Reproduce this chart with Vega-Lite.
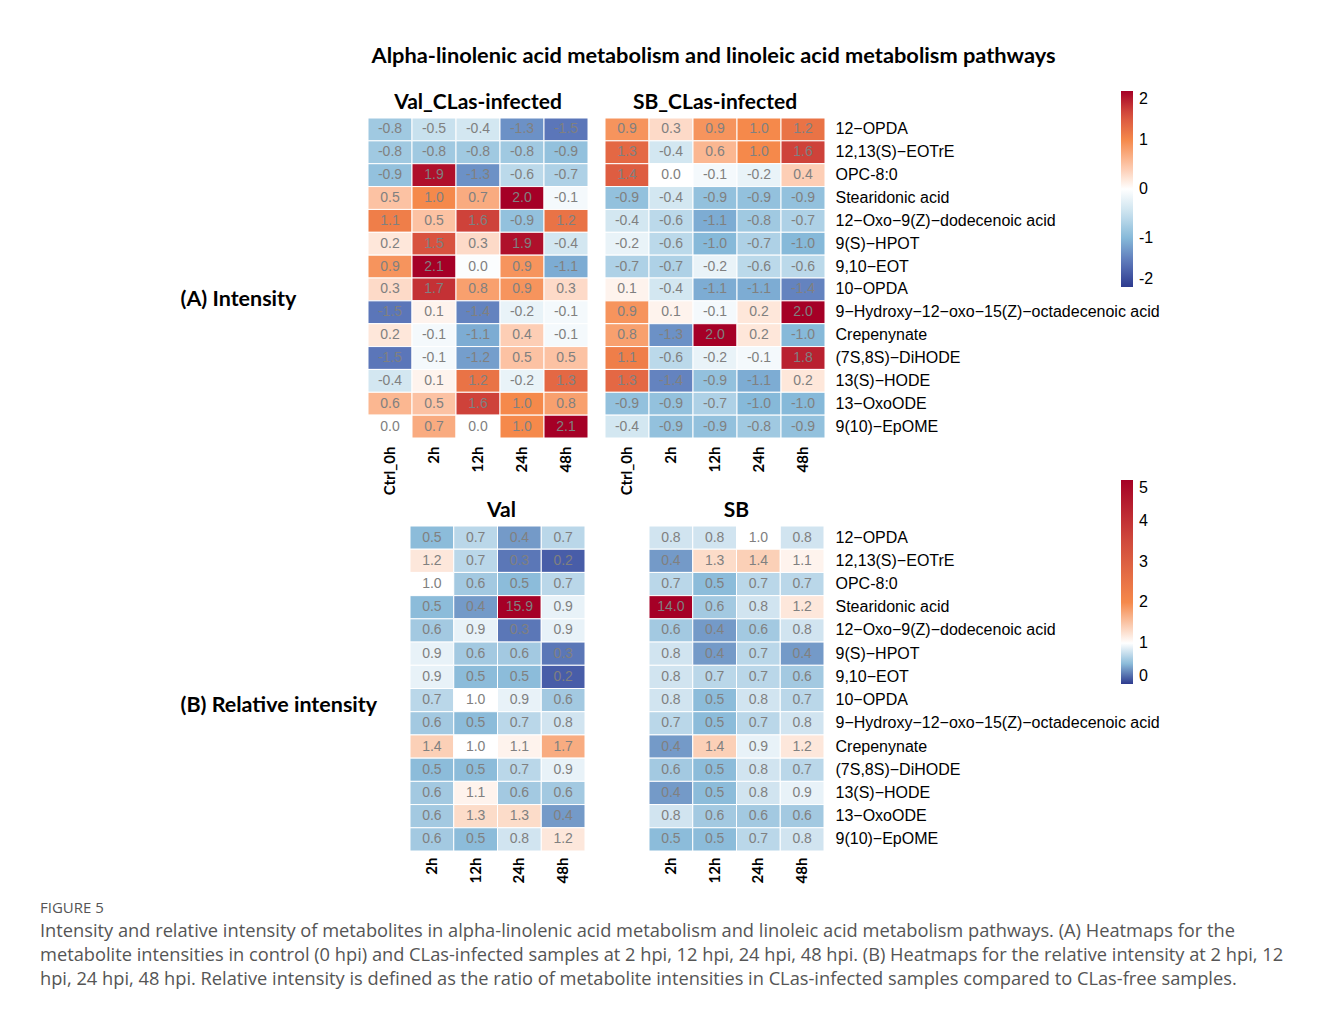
{
  "$schema": "https://vega.github.io/schema/vega-lite/v6.json",
  "background": "white",
  "padding": {"left": 40, "top": 46, "right": 5, "bottom": 5},
  "config": {
    "view": {"stroke": null},
    "locale": {"number": {"decimal": ".", "thousands": ",", "grouping": [3], "currency": ["$", ""], "minus": "-"}},
    "axis": {"domain": false, "ticks": false, "grid": false}
  },
  "title": {"text": "Alpha-linolenic acid metabolism and linoleic acid metabolism pathways", "font": "Lato", "fontSize": 21.8, "fontWeight": "bold", "color": "#000000", "anchor": "middle", "dx": 52, "offset": 23},
  "resolve": {"scale": {"color": "independent"}},
  "spacing": -15,
  "datasets": {
    "intA": [
      {"g":"Val","m":"12−OPDA","t":"Ctrl_0h","v":-0.8},{"g":"Val","m":"12−OPDA","t":"2h","v":-0.5},{"g":"Val","m":"12−OPDA","t":"12h","v":-0.4},{"g":"Val","m":"12−OPDA","t":"24h","v":-1.3},{"g":"Val","m":"12−OPDA","t":"48h","v":-1.5},
      {"g":"Val","m":"12,13(S)−EOTrE","t":"Ctrl_0h","v":-0.8},{"g":"Val","m":"12,13(S)−EOTrE","t":"2h","v":-0.8},{"g":"Val","m":"12,13(S)−EOTrE","t":"12h","v":-0.8},{"g":"Val","m":"12,13(S)−EOTrE","t":"24h","v":-0.8},{"g":"Val","m":"12,13(S)−EOTrE","t":"48h","v":-0.9},
      {"g":"Val","m":"OPC-8:0","t":"Ctrl_0h","v":-0.9},{"g":"Val","m":"OPC-8:0","t":"2h","v":1.9},{"g":"Val","m":"OPC-8:0","t":"12h","v":-1.3},{"g":"Val","m":"OPC-8:0","t":"24h","v":-0.6},{"g":"Val","m":"OPC-8:0","t":"48h","v":-0.7},
      {"g":"Val","m":"Stearidonic acid","t":"Ctrl_0h","v":0.5},{"g":"Val","m":"Stearidonic acid","t":"2h","v":1.0},{"g":"Val","m":"Stearidonic acid","t":"12h","v":0.7},{"g":"Val","m":"Stearidonic acid","t":"24h","v":2.0},{"g":"Val","m":"Stearidonic acid","t":"48h","v":-0.1},
      {"g":"Val","m":"12−Oxo−9(Z)−dodecenoic acid","t":"Ctrl_0h","v":1.1},{"g":"Val","m":"12−Oxo−9(Z)−dodecenoic acid","t":"2h","v":0.5},{"g":"Val","m":"12−Oxo−9(Z)−dodecenoic acid","t":"12h","v":1.6},{"g":"Val","m":"12−Oxo−9(Z)−dodecenoic acid","t":"24h","v":-0.9},{"g":"Val","m":"12−Oxo−9(Z)−dodecenoic acid","t":"48h","v":1.2},
      {"g":"Val","m":"9(S)−HPOT","t":"Ctrl_0h","v":0.2},{"g":"Val","m":"9(S)−HPOT","t":"2h","v":1.5},{"g":"Val","m":"9(S)−HPOT","t":"12h","v":0.3},{"g":"Val","m":"9(S)−HPOT","t":"24h","v":1.9},{"g":"Val","m":"9(S)−HPOT","t":"48h","v":-0.4},
      {"g":"Val","m":"9,10−EOT","t":"Ctrl_0h","v":0.9},{"g":"Val","m":"9,10−EOT","t":"2h","v":2.1},{"g":"Val","m":"9,10−EOT","t":"12h","v":-0.04},{"g":"Val","m":"9,10−EOT","t":"24h","v":0.9},{"g":"Val","m":"9,10−EOT","t":"48h","v":-1.1},
      {"g":"Val","m":"10−OPDA","t":"Ctrl_0h","v":0.3},{"g":"Val","m":"10−OPDA","t":"2h","v":1.7},{"g":"Val","m":"10−OPDA","t":"12h","v":0.8},{"g":"Val","m":"10−OPDA","t":"24h","v":0.9},{"g":"Val","m":"10−OPDA","t":"48h","v":0.3},
      {"g":"Val","m":"9−Hydroxy−12−oxo−15(Z)−octadecenoic acid","t":"Ctrl_0h","v":-1.5},{"g":"Val","m":"9−Hydroxy−12−oxo−15(Z)−octadecenoic acid","t":"2h","v":0.1},{"g":"Val","m":"9−Hydroxy−12−oxo−15(Z)−octadecenoic acid","t":"12h","v":-1.4},{"g":"Val","m":"9−Hydroxy−12−oxo−15(Z)−octadecenoic acid","t":"24h","v":-0.2},{"g":"Val","m":"9−Hydroxy−12−oxo−15(Z)−octadecenoic acid","t":"48h","v":-0.1},
      {"g":"Val","m":"Crepenynate","t":"Ctrl_0h","v":0.2},{"g":"Val","m":"Crepenynate","t":"2h","v":-0.1},{"g":"Val","m":"Crepenynate","t":"12h","v":-1.1},{"g":"Val","m":"Crepenynate","t":"24h","v":0.4},{"g":"Val","m":"Crepenynate","t":"48h","v":-0.1},
      {"g":"Val","m":"(7S,8S)−DiHODE","t":"Ctrl_0h","v":-1.5},{"g":"Val","m":"(7S,8S)−DiHODE","t":"2h","v":-0.1},{"g":"Val","m":"(7S,8S)−DiHODE","t":"12h","v":-1.2},{"g":"Val","m":"(7S,8S)−DiHODE","t":"24h","v":0.5},{"g":"Val","m":"(7S,8S)−DiHODE","t":"48h","v":0.5},
      {"g":"Val","m":"13(S)−HODE","t":"Ctrl_0h","v":-0.4},{"g":"Val","m":"13(S)−HODE","t":"2h","v":0.1},{"g":"Val","m":"13(S)−HODE","t":"12h","v":1.2},{"g":"Val","m":"13(S)−HODE","t":"24h","v":-0.2},{"g":"Val","m":"13(S)−HODE","t":"48h","v":1.3},
      {"g":"Val","m":"13−OxoODE","t":"Ctrl_0h","v":0.6},{"g":"Val","m":"13−OxoODE","t":"2h","v":0.5},{"g":"Val","m":"13−OxoODE","t":"12h","v":1.6},{"g":"Val","m":"13−OxoODE","t":"24h","v":1.0},{"g":"Val","m":"13−OxoODE","t":"48h","v":0.8},
      {"g":"Val","m":"9(10)−EpOME","t":"Ctrl_0h","v":0.0},{"g":"Val","m":"9(10)−EpOME","t":"2h","v":0.7},{"g":"Val","m":"9(10)−EpOME","t":"12h","v":0.0},{"g":"Val","m":"9(10)−EpOME","t":"24h","v":1.0},{"g":"Val","m":"9(10)−EpOME","t":"48h","v":2.1},
      {"g":"SB","m":"12−OPDA","t":"Ctrl_0h","v":0.9},{"g":"SB","m":"12−OPDA","t":"2h","v":0.3},{"g":"SB","m":"12−OPDA","t":"12h","v":0.9},{"g":"SB","m":"12−OPDA","t":"24h","v":1.0},{"g":"SB","m":"12−OPDA","t":"48h","v":1.2},
      {"g":"SB","m":"12,13(S)−EOTrE","t":"Ctrl_0h","v":1.3},{"g":"SB","m":"12,13(S)−EOTrE","t":"2h","v":-0.4},{"g":"SB","m":"12,13(S)−EOTrE","t":"12h","v":0.6},{"g":"SB","m":"12,13(S)−EOTrE","t":"24h","v":1.0},{"g":"SB","m":"12,13(S)−EOTrE","t":"48h","v":1.6},
      {"g":"SB","m":"OPC-8:0","t":"Ctrl_0h","v":1.4},{"g":"SB","m":"OPC-8:0","t":"2h","v":0.0},{"g":"SB","m":"OPC-8:0","t":"12h","v":-0.1},{"g":"SB","m":"OPC-8:0","t":"24h","v":-0.2},{"g":"SB","m":"OPC-8:0","t":"48h","v":0.4},
      {"g":"SB","m":"Stearidonic acid","t":"Ctrl_0h","v":-0.9},{"g":"SB","m":"Stearidonic acid","t":"2h","v":-0.4},{"g":"SB","m":"Stearidonic acid","t":"12h","v":-0.9},{"g":"SB","m":"Stearidonic acid","t":"24h","v":-0.9},{"g":"SB","m":"Stearidonic acid","t":"48h","v":-0.9},
      {"g":"SB","m":"12−Oxo−9(Z)−dodecenoic acid","t":"Ctrl_0h","v":-0.4},{"g":"SB","m":"12−Oxo−9(Z)−dodecenoic acid","t":"2h","v":-0.6},{"g":"SB","m":"12−Oxo−9(Z)−dodecenoic acid","t":"12h","v":-1.1},{"g":"SB","m":"12−Oxo−9(Z)−dodecenoic acid","t":"24h","v":-0.8},{"g":"SB","m":"12−Oxo−9(Z)−dodecenoic acid","t":"48h","v":-0.7},
      {"g":"SB","m":"9(S)−HPOT","t":"Ctrl_0h","v":-0.2},{"g":"SB","m":"9(S)−HPOT","t":"2h","v":-0.6},{"g":"SB","m":"9(S)−HPOT","t":"12h","v":-1.0},{"g":"SB","m":"9(S)−HPOT","t":"24h","v":-0.7},{"g":"SB","m":"9(S)−HPOT","t":"48h","v":-1.0},
      {"g":"SB","m":"9,10−EOT","t":"Ctrl_0h","v":-0.7},{"g":"SB","m":"9,10−EOT","t":"2h","v":-0.7},{"g":"SB","m":"9,10−EOT","t":"12h","v":-0.2},{"g":"SB","m":"9,10−EOT","t":"24h","v":-0.6},{"g":"SB","m":"9,10−EOT","t":"48h","v":-0.6},
      {"g":"SB","m":"10−OPDA","t":"Ctrl_0h","v":0.1},{"g":"SB","m":"10−OPDA","t":"2h","v":-0.4},{"g":"SB","m":"10−OPDA","t":"12h","v":-1.1},{"g":"SB","m":"10−OPDA","t":"24h","v":-1.1},{"g":"SB","m":"10−OPDA","t":"48h","v":-1.4},
      {"g":"SB","m":"9−Hydroxy−12−oxo−15(Z)−octadecenoic acid","t":"Ctrl_0h","v":0.9},{"g":"SB","m":"9−Hydroxy−12−oxo−15(Z)−octadecenoic acid","t":"2h","v":0.1},{"g":"SB","m":"9−Hydroxy−12−oxo−15(Z)−octadecenoic acid","t":"12h","v":-0.1},{"g":"SB","m":"9−Hydroxy−12−oxo−15(Z)−octadecenoic acid","t":"24h","v":0.2},{"g":"SB","m":"9−Hydroxy−12−oxo−15(Z)−octadecenoic acid","t":"48h","v":2.0},
      {"g":"SB","m":"Crepenynate","t":"Ctrl_0h","v":0.8},{"g":"SB","m":"Crepenynate","t":"2h","v":-1.3},{"g":"SB","m":"Crepenynate","t":"12h","v":2.0},{"g":"SB","m":"Crepenynate","t":"24h","v":0.2},{"g":"SB","m":"Crepenynate","t":"48h","v":-1.0},
      {"g":"SB","m":"(7S,8S)−DiHODE","t":"Ctrl_0h","v":1.1},{"g":"SB","m":"(7S,8S)−DiHODE","t":"2h","v":-0.6},{"g":"SB","m":"(7S,8S)−DiHODE","t":"12h","v":-0.2},{"g":"SB","m":"(7S,8S)−DiHODE","t":"24h","v":-0.1},{"g":"SB","m":"(7S,8S)−DiHODE","t":"48h","v":1.8},
      {"g":"SB","m":"13(S)−HODE","t":"Ctrl_0h","v":1.3},{"g":"SB","m":"13(S)−HODE","t":"2h","v":-1.4},{"g":"SB","m":"13(S)−HODE","t":"12h","v":-0.9},{"g":"SB","m":"13(S)−HODE","t":"24h","v":-1.1},{"g":"SB","m":"13(S)−HODE","t":"48h","v":0.2},
      {"g":"SB","m":"13−OxoODE","t":"Ctrl_0h","v":-0.9},{"g":"SB","m":"13−OxoODE","t":"2h","v":-0.9},{"g":"SB","m":"13−OxoODE","t":"12h","v":-0.7},{"g":"SB","m":"13−OxoODE","t":"24h","v":-1.0},{"g":"SB","m":"13−OxoODE","t":"48h","v":-1.0},
      {"g":"SB","m":"9(10)−EpOME","t":"Ctrl_0h","v":-0.4},{"g":"SB","m":"9(10)−EpOME","t":"2h","v":-0.9},{"g":"SB","m":"9(10)−EpOME","t":"12h","v":-0.9},{"g":"SB","m":"9(10)−EpOME","t":"24h","v":-0.8},{"g":"SB","m":"9(10)−EpOME","t":"48h","v":-0.9}
    ],
    "relB": [
      {"g":"Val","m":"12−OPDA","t":"2h","v":0.5},{"g":"Val","m":"12−OPDA","t":"12h","v":0.7},{"g":"Val","m":"12−OPDA","t":"24h","v":0.4},{"g":"Val","m":"12−OPDA","t":"48h","v":0.7},
      {"g":"Val","m":"12,13(S)−EOTrE","t":"2h","v":1.2},{"g":"Val","m":"12,13(S)−EOTrE","t":"12h","v":0.7},{"g":"Val","m":"12,13(S)−EOTrE","t":"24h","v":0.3},{"g":"Val","m":"12,13(S)−EOTrE","t":"48h","v":0.2},
      {"g":"Val","m":"OPC-8:0","t":"2h","v":1.0},{"g":"Val","m":"OPC-8:0","t":"12h","v":0.6},{"g":"Val","m":"OPC-8:0","t":"24h","v":0.5},{"g":"Val","m":"OPC-8:0","t":"48h","v":0.7},
      {"g":"Val","m":"Stearidonic acid","t":"2h","v":0.5},{"g":"Val","m":"Stearidonic acid","t":"12h","v":0.4},{"g":"Val","m":"Stearidonic acid","t":"24h","v":15.9},{"g":"Val","m":"Stearidonic acid","t":"48h","v":0.9},
      {"g":"Val","m":"12−Oxo−9(Z)−dodecenoic acid","t":"2h","v":0.6},{"g":"Val","m":"12−Oxo−9(Z)−dodecenoic acid","t":"12h","v":0.9},{"g":"Val","m":"12−Oxo−9(Z)−dodecenoic acid","t":"24h","v":0.3},{"g":"Val","m":"12−Oxo−9(Z)−dodecenoic acid","t":"48h","v":0.9},
      {"g":"Val","m":"9(S)−HPOT","t":"2h","v":0.9},{"g":"Val","m":"9(S)−HPOT","t":"12h","v":0.6},{"g":"Val","m":"9(S)−HPOT","t":"24h","v":0.6},{"g":"Val","m":"9(S)−HPOT","t":"48h","v":0.3},
      {"g":"Val","m":"9,10−EOT","t":"2h","v":0.9},{"g":"Val","m":"9,10−EOT","t":"12h","v":0.5},{"g":"Val","m":"9,10−EOT","t":"24h","v":0.5},{"g":"Val","m":"9,10−EOT","t":"48h","v":0.2},
      {"g":"Val","m":"10−OPDA","t":"2h","v":0.7},{"g":"Val","m":"10−OPDA","t":"12h","v":1.0},{"g":"Val","m":"10−OPDA","t":"24h","v":0.9},{"g":"Val","m":"10−OPDA","t":"48h","v":0.6},
      {"g":"Val","m":"9−Hydroxy−12−oxo−15(Z)−octadecenoic acid","t":"2h","v":0.6},{"g":"Val","m":"9−Hydroxy−12−oxo−15(Z)−octadecenoic acid","t":"12h","v":0.5},{"g":"Val","m":"9−Hydroxy−12−oxo−15(Z)−octadecenoic acid","t":"24h","v":0.7},{"g":"Val","m":"9−Hydroxy−12−oxo−15(Z)−octadecenoic acid","t":"48h","v":0.8},
      {"g":"Val","m":"Crepenynate","t":"2h","v":1.4},{"g":"Val","m":"Crepenynate","t":"12h","v":1.0},{"g":"Val","m":"Crepenynate","t":"24h","v":1.1},{"g":"Val","m":"Crepenynate","t":"48h","v":1.7},
      {"g":"Val","m":"(7S,8S)−DiHODE","t":"2h","v":0.5},{"g":"Val","m":"(7S,8S)−DiHODE","t":"12h","v":0.5},{"g":"Val","m":"(7S,8S)−DiHODE","t":"24h","v":0.7},{"g":"Val","m":"(7S,8S)−DiHODE","t":"48h","v":0.9},
      {"g":"Val","m":"13(S)−HODE","t":"2h","v":0.6},{"g":"Val","m":"13(S)−HODE","t":"12h","v":1.1},{"g":"Val","m":"13(S)−HODE","t":"24h","v":0.6},{"g":"Val","m":"13(S)−HODE","t":"48h","v":0.6},
      {"g":"Val","m":"13−OxoODE","t":"2h","v":0.6},{"g":"Val","m":"13−OxoODE","t":"12h","v":1.3},{"g":"Val","m":"13−OxoODE","t":"24h","v":1.3},{"g":"Val","m":"13−OxoODE","t":"48h","v":0.4},
      {"g":"Val","m":"9(10)−EpOME","t":"2h","v":0.6},{"g":"Val","m":"9(10)−EpOME","t":"12h","v":0.5},{"g":"Val","m":"9(10)−EpOME","t":"24h","v":0.8},{"g":"Val","m":"9(10)−EpOME","t":"48h","v":1.2},
      {"g":"SB","m":"12−OPDA","t":"2h","v":0.8},{"g":"SB","m":"12−OPDA","t":"12h","v":0.8},{"g":"SB","m":"12−OPDA","t":"24h","v":1.0},{"g":"SB","m":"12−OPDA","t":"48h","v":0.8},
      {"g":"SB","m":"12,13(S)−EOTrE","t":"2h","v":0.4},{"g":"SB","m":"12,13(S)−EOTrE","t":"12h","v":1.3},{"g":"SB","m":"12,13(S)−EOTrE","t":"24h","v":1.4},{"g":"SB","m":"12,13(S)−EOTrE","t":"48h","v":1.1},
      {"g":"SB","m":"OPC-8:0","t":"2h","v":0.7},{"g":"SB","m":"OPC-8:0","t":"12h","v":0.5},{"g":"SB","m":"OPC-8:0","t":"24h","v":0.7},{"g":"SB","m":"OPC-8:0","t":"48h","v":0.7},
      {"g":"SB","m":"Stearidonic acid","t":"2h","v":14.0},{"g":"SB","m":"Stearidonic acid","t":"12h","v":0.6},{"g":"SB","m":"Stearidonic acid","t":"24h","v":0.8},{"g":"SB","m":"Stearidonic acid","t":"48h","v":1.2},
      {"g":"SB","m":"12−Oxo−9(Z)−dodecenoic acid","t":"2h","v":0.6},{"g":"SB","m":"12−Oxo−9(Z)−dodecenoic acid","t":"12h","v":0.4},{"g":"SB","m":"12−Oxo−9(Z)−dodecenoic acid","t":"24h","v":0.6},{"g":"SB","m":"12−Oxo−9(Z)−dodecenoic acid","t":"48h","v":0.8},
      {"g":"SB","m":"9(S)−HPOT","t":"2h","v":0.8},{"g":"SB","m":"9(S)−HPOT","t":"12h","v":0.4},{"g":"SB","m":"9(S)−HPOT","t":"24h","v":0.7},{"g":"SB","m":"9(S)−HPOT","t":"48h","v":0.4},
      {"g":"SB","m":"9,10−EOT","t":"2h","v":0.8},{"g":"SB","m":"9,10−EOT","t":"12h","v":0.7},{"g":"SB","m":"9,10−EOT","t":"24h","v":0.7},{"g":"SB","m":"9,10−EOT","t":"48h","v":0.6},
      {"g":"SB","m":"10−OPDA","t":"2h","v":0.8},{"g":"SB","m":"10−OPDA","t":"12h","v":0.5},{"g":"SB","m":"10−OPDA","t":"24h","v":0.8},{"g":"SB","m":"10−OPDA","t":"48h","v":0.7},
      {"g":"SB","m":"9−Hydroxy−12−oxo−15(Z)−octadecenoic acid","t":"2h","v":0.7},{"g":"SB","m":"9−Hydroxy−12−oxo−15(Z)−octadecenoic acid","t":"12h","v":0.5},{"g":"SB","m":"9−Hydroxy−12−oxo−15(Z)−octadecenoic acid","t":"24h","v":0.7},{"g":"SB","m":"9−Hydroxy−12−oxo−15(Z)−octadecenoic acid","t":"48h","v":0.8},
      {"g":"SB","m":"Crepenynate","t":"2h","v":0.4},{"g":"SB","m":"Crepenynate","t":"12h","v":1.4},{"g":"SB","m":"Crepenynate","t":"24h","v":0.9},{"g":"SB","m":"Crepenynate","t":"48h","v":1.2},
      {"g":"SB","m":"(7S,8S)−DiHODE","t":"2h","v":0.6},{"g":"SB","m":"(7S,8S)−DiHODE","t":"12h","v":0.5},{"g":"SB","m":"(7S,8S)−DiHODE","t":"24h","v":0.8},{"g":"SB","m":"(7S,8S)−DiHODE","t":"48h","v":0.7},
      {"g":"SB","m":"13(S)−HODE","t":"2h","v":0.4},{"g":"SB","m":"13(S)−HODE","t":"12h","v":0.5},{"g":"SB","m":"13(S)−HODE","t":"24h","v":0.8},{"g":"SB","m":"13(S)−HODE","t":"48h","v":0.9},
      {"g":"SB","m":"13−OxoODE","t":"2h","v":0.8},{"g":"SB","m":"13−OxoODE","t":"12h","v":0.6},{"g":"SB","m":"13−OxoODE","t":"24h","v":0.6},{"g":"SB","m":"13−OxoODE","t":"48h","v":0.6},
      {"g":"SB","m":"9(10)−EpOME","t":"2h","v":0.5},{"g":"SB","m":"9(10)−EpOME","t":"12h","v":0.5},{"g":"SB","m":"9(10)−EpOME","t":"24h","v":0.7},{"g":"SB","m":"9(10)−EpOME","t":"48h","v":0.8}
    ]
  },
  "vconcat": [
    {
      "hconcat": [
        {
          "title": {"text": "Val_CLas-infected", "font": "Lato", "fontSize": 21, "fontWeight": "bold", "color": "#000000", "anchor": "middle", "offset": 5},
          "width": 220, "height": 320,
          "data": {"name": "intA"},
          "transform": [{"filter": "datum.g === 'Val'"}],
          "encoding": {
            "x": {"field": "t", "type": "nominal", "sort": ["Ctrl_0h","2h","12h","24h","48h"], "scale": {"paddingInner": 0, "paddingOuter": 0},
                  "axis": {"title": null, "labelAngle": 270, "labelFont": "Lato", "labelFontSize": 15, "labelFontWeight": "bold", "labelColor": "#000000", "labelPadding": 8}},
            "y": {"field": "m", "type": "nominal", "sort": ["12−OPDA","12,13(S)−EOTrE","OPC-8:0","Stearidonic acid","12−Oxo−9(Z)−dodecenoic acid","9(S)−HPOT","9,10−EOT","10−OPDA","9−Hydroxy−12−oxo−15(Z)−octadecenoic acid","Crepenynate","(7S,8S)−DiHODE","13(S)−HODE","13−OxoODE","9(10)−EpOME"],
                  "scale": {"paddingInner": 0, "paddingOuter": 0},
                  "axis": {"labels": false, "title": "(A) Intensity", "titleAngle": 0, "titleAlign": "left", "titleBaseline": "middle", "titleX": -188, "titleY": 181, "titleFont": "Lato", "titleFontSize": 21.5, "titleFontWeight": "bold", "titleColor": "#000000"}}
          },
          "layer": [
            {"mark": {"type": "rect", "stroke": "#ffffff", "strokeWidth": 1},
             "encoding": {"color": {"field": "v", "type": "quantitative", "legend": null,
               "scale": {"domain": [-2,-1.5,-1,-0.5,0,0.5,1,1.5,2], "range": ["#2d3a8e","#5b76b9","#86b9d9","#c8e1ee","#ffffff","#fcc2a3","#f5894b","#d8523f","#a50026"], "clamp": true, "interpolate": "rgb"}}}},
            {"mark": {"type": "text", "font": "Liberation Sans", "fontSize": 14, "color": "#808080"},
             "encoding": {"text": {"field": "v", "type": "quantitative", "format": ".1f"}}}
          ]
        },
        {
          "title": {"text": "SB_CLas-infected", "font": "Lato", "fontSize": 21, "fontWeight": "bold", "color": "#000000", "anchor": "middle", "offset": 5, "dy": 27},
          "width": 220, "height": 320,
          "data": {"name": "intA"},
          "transform": [{"filter": "datum.g === 'SB'"}],
          "encoding": {
            "x": {"field": "t", "type": "nominal", "sort": ["Ctrl_0h","2h","12h","24h","48h"], "scale": {"paddingInner": 0, "paddingOuter": 0},
                  "axis": {"title": null, "labelAngle": 270, "labelFont": "Lato", "labelFontSize": 15, "labelFontWeight": "bold", "labelColor": "#000000", "labelPadding": 8}},
            "y": {"field": "m", "type": "nominal", "sort": ["12−OPDA","12,13(S)−EOTrE","OPC-8:0","Stearidonic acid","12−Oxo−9(Z)−dodecenoic acid","9(S)−HPOT","9,10−EOT","10−OPDA","9−Hydroxy−12−oxo−15(Z)−octadecenoic acid","Crepenynate","(7S,8S)−DiHODE","13(S)−HODE","13−OxoODE","9(10)−EpOME"],
                  "scale": {"paddingInner": 0, "paddingOuter": 0},
                  "axis": {"orient": "right", "title": null, "labelFont": "Liberation Sans", "labelFontSize": 16, "labelColor": "#000000", "labelPadding": 10, "labelLimit": 0}}
          },
          "layer": [
            {"mark": {"type": "rect", "stroke": "#ffffff", "strokeWidth": 1},
             "encoding": {"color": {"field": "v", "type": "quantitative",
               "scale": {"domain": [-2,-1.5,-1,-0.5,0,0.5,1,1.5,2], "range": ["#2d3a8e","#5b76b9","#86b9d9","#c8e1ee","#ffffff","#fcc2a3","#f5894b","#d8523f","#a50026"], "clamp": true, "interpolate": "rgb"},
               "legend": {"orient": "none", "legendX": 516, "legendY": -27, "title": null, "direction": "vertical", "gradientLength": 196, "gradientThickness": 12, "gradientStrokeWidth": 0, "values": [-2,-1,0,1,2], "labelFont": "Liberation Sans", "labelFontSize": 16, "labelColor": "#000000", "labelOffset": 6, "padding": 0}}}},
            {"mark": {"type": "text", "font": "Liberation Sans", "fontSize": 14, "color": "#808080"},
             "encoding": {"text": {"field": "v", "type": "quantitative", "format": ".1f"}}}
          ]
        }
      ],
      "spacing": 15,
      "resolve": {"scale": {"color": "independent"}}
    },
    {
      "title": {"text": "FIGURE 5", "orient": "bottom", "anchor": "start", "dx": -140, "offset": 18, "font": "Open Sans", "fontSize": 15, "fontWeight": "normal", "color": "#555555",
                "subtitle": ["Intensity and relative intensity of metabolites in alpha-linolenic acid metabolism and linoleic acid metabolism pathways. (A) Heatmaps for the", "metabolite intensities in control (0 hpi) and CLas-infected samples at 2 hpi, 12 hpi, 24 hpi, 48 hpi. (B) Heatmaps for the relative intensity at 2 hpi, 12", "hpi, 24 hpi, 48 hpi. Relative intensity is defined as the ratio of metabolite intensities in CLas-infected samples compared to CLas-free samples."],
                "subtitleFont": "Open Sans", "subtitleFontSize": 18.25, "subtitleColor": "#555555", "subtitleLineHeight": 24, "subtitlePadding": 7},
      "hconcat": [
        {
          "title": {"text": "Val", "font": "Lato", "fontSize": 21, "fontWeight": "bold", "color": "#000000", "anchor": "middle", "offset": 5, "dx": 25},
          "width": 217, "height": 325,
          "data": {"name": "relB"},
          "transform": [{"filter": "datum.g === 'Val'"}],
          "encoding": {
            "x": {"field": "t", "type": "nominal", "sort": ["2h","12h","24h","48h"], "scale": {"paddingInner": 0, "paddingOuter": 0, "range": [42, 217]},
                  "axis": {"title": null, "labelAngle": 270, "labelFont": "Lato", "labelFontSize": 15, "labelFontWeight": "bold", "labelColor": "#000000", "labelPadding": 6}},
            "y": {"field": "m", "type": "nominal", "sort": ["12−OPDA","12,13(S)−EOTrE","OPC-8:0","Stearidonic acid","12−Oxo−9(Z)−dodecenoic acid","9(S)−HPOT","9,10−EOT","10−OPDA","9−Hydroxy−12−oxo−15(Z)−octadecenoic acid","Crepenynate","(7S,8S)−DiHODE","13(S)−HODE","13−OxoODE","9(10)−EpOME"],
                  "scale": {"paddingInner": 0, "paddingOuter": 0},
                  "axis": {"labels": false, "title": "(B) Relative intensity", "titleAngle": 0, "titleAlign": "left", "titleBaseline": "middle", "titleX": -188, "titleY": 179, "titleFont": "Lato", "titleFontSize": 21.5, "titleFontWeight": "bold", "titleColor": "#000000"}}
          },
          "layer": [
            {"mark": {"type": "rect", "stroke": "#ffffff", "strokeWidth": 1},
             "encoding": {"color": {"field": "v", "type": "quantitative", "legend": null,
               "scale": {"domain": [0,0.25,0.5,1,2,3.5,5], "range": ["#2d3a8e","#4f66ae","#8cbcda","#ffffff","#f5894b","#d04a3c","#a50026"], "clamp": true, "interpolate": "rgb"}}}},
            {"mark": {"type": "text", "font": "Liberation Sans", "fontSize": 14, "color": "#808080"},
             "encoding": {"text": {"field": "v", "type": "quantitative", "format": ".1f"}}}
          ]
        },
        {
          "title": {"text": "SB", "font": "Lato", "fontSize": 21, "fontWeight": "bold", "color": "#000000", "anchor": "middle", "offset": 5, "dy": 46},
          "width": 175, "height": 325,
          "data": {"name": "relB"},
          "transform": [{"filter": "datum.g === 'SB'"}],
          "encoding": {
            "x": {"field": "t", "type": "nominal", "sort": ["2h","12h","24h","48h"], "scale": {"paddingInner": 0, "paddingOuter": 0},
                  "axis": {"title": null, "labelAngle": 270, "labelFont": "Lato", "labelFontSize": 15, "labelFontWeight": "bold", "labelColor": "#000000", "labelPadding": 6}},
            "y": {"field": "m", "type": "nominal", "sort": ["12−OPDA","12,13(S)−EOTrE","OPC-8:0","Stearidonic acid","12−Oxo−9(Z)−dodecenoic acid","9(S)−HPOT","9,10−EOT","10−OPDA","9−Hydroxy−12−oxo−15(Z)−octadecenoic acid","Crepenynate","(7S,8S)−DiHODE","13(S)−HODE","13−OxoODE","9(10)−EpOME"],
                  "scale": {"paddingInner": 0, "paddingOuter": 0},
                  "axis": {"orient": "right", "title": null, "labelFont": "Liberation Sans", "labelFontSize": 16, "labelColor": "#000000", "labelPadding": 11, "labelLimit": 0}}
          },
          "layer": [
            {"mark": {"type": "rect", "stroke": "#ffffff", "strokeWidth": 1},
             "encoding": {"color": {"field": "v", "type": "quantitative",
               "scale": {"domain": [0,0.25,0.5,1,2,3.5,5], "range": ["#2d3a8e","#4f66ae","#8cbcda","#ffffff","#f5894b","#d04a3c","#a50026"], "clamp": true, "interpolate": "rgb"},
               "legend": {"orient": "none", "legendX": 472, "legendY": -46, "title": null, "direction": "vertical", "gradientLength": 204, "gradientThickness": 12, "gradientStrokeWidth": 0, "values": [0,1,2,3,4,5], "labelFont": "Liberation Sans", "labelFontSize": 16, "labelColor": "#000000", "labelOffset": 6, "padding": 0}}}},
            {"mark": {"type": "text", "font": "Liberation Sans", "fontSize": 14, "color": "#808080"},
             "encoding": {"text": {"field": "v", "type": "quantitative", "format": ".1f"}}}
          ]
        }
      ],
      "spacing": 62,
      "resolve": {"scale": {"color": "independent"}}
    }
  ]
}
